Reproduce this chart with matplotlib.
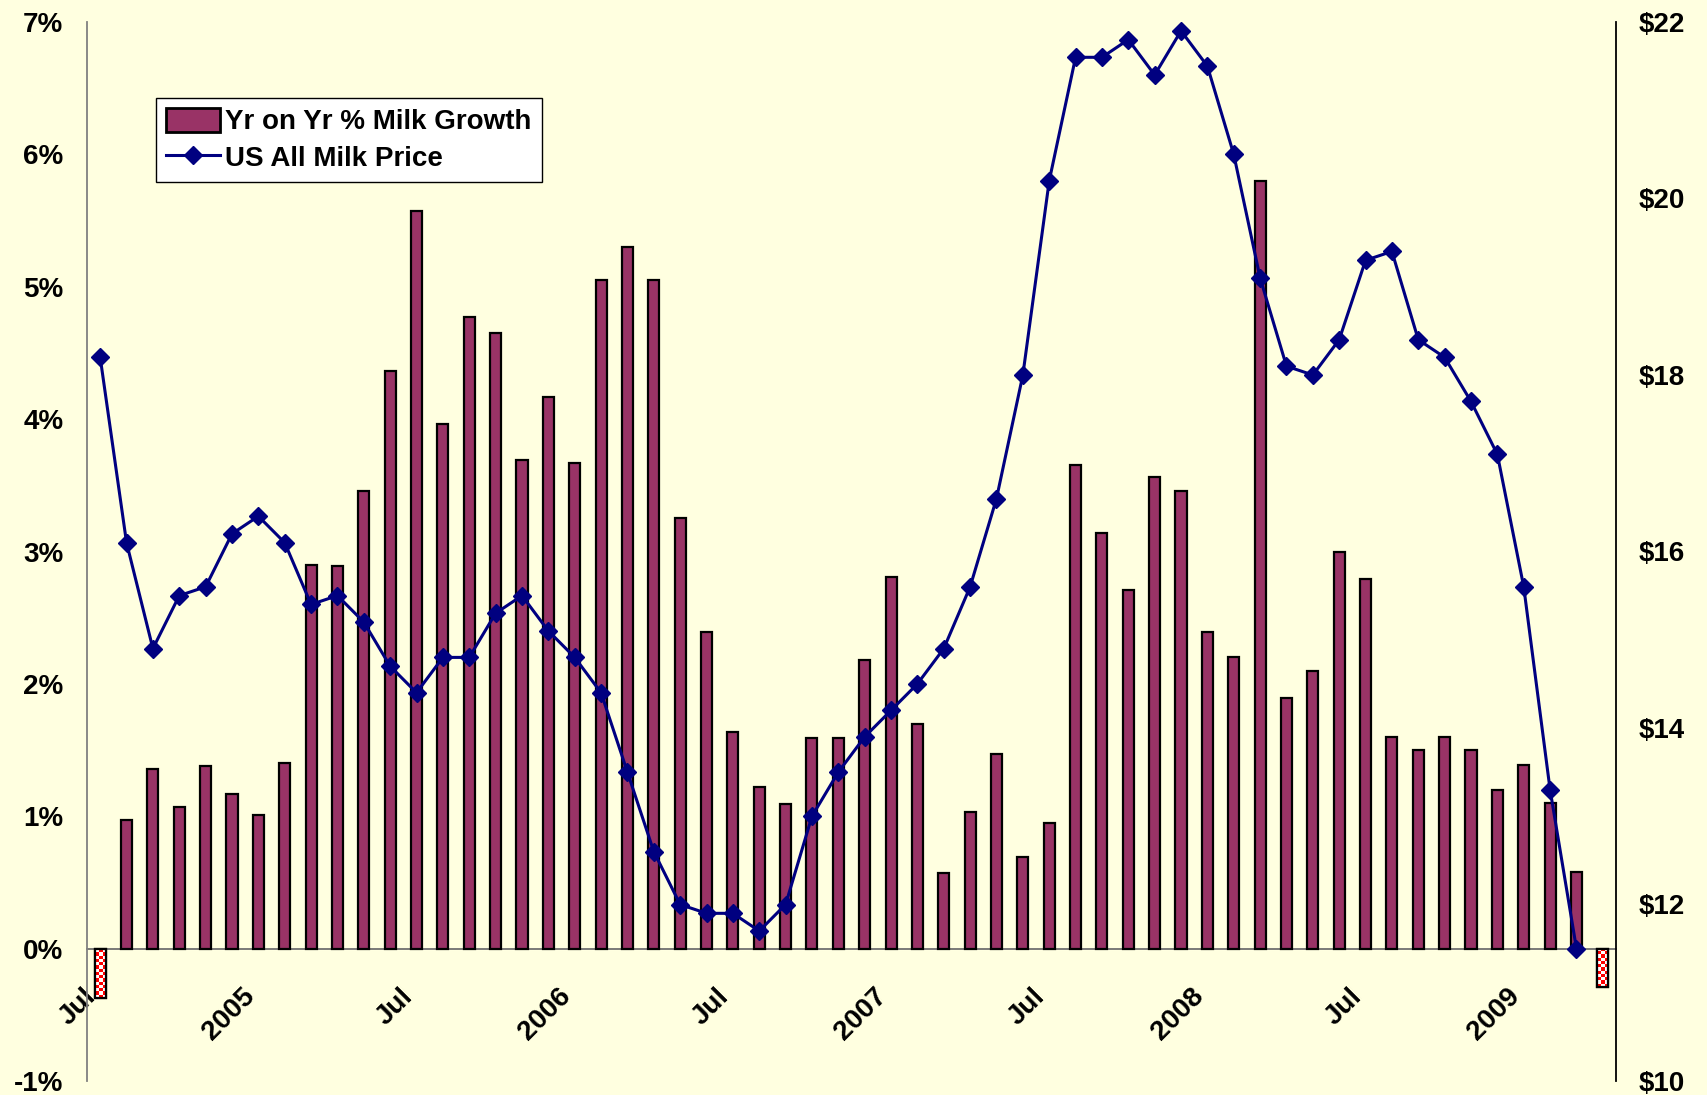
import numpy as np
import matplotlib
matplotlib.use("Agg")
import matplotlib.pyplot as plt
from matplotlib.colors import ListedColormap
from matplotlib.lines import Line2D
from matplotlib.patches import Patch, Rectangle
from matplotlib.transforms import ScaledTranslation
from matplotlib.font_manager import FontProperties

# Monthly series, Jul 2004 - Apr 2009
months = list(range(58))
tick_pos = [0, 6, 12, 18, 24, 30, 36, 42, 48, 54]
tick_labels = ["Jul", "2005", "Jul", "2006", "Jul", "2007", "Jul", "2008", "Jul", "2009"]

# Year-on-year % change in US milk production
milk_growth = [
    -0.37, 0.97, 1.36, 1.07, 1.38, 1.17, 1.01, 1.40, 2.90, 2.89,
    3.46, 4.36, 5.57, 3.96, 4.77, 4.65, 3.69, 4.17, 3.67, 5.05,
    5.30, 5.05, 3.25, 2.39, 1.64, 1.22, 1.09, 1.59, 1.59, 2.18,
    2.81, 1.70, 0.57, 1.03, 1.47, 0.69, 0.95, 3.65, 3.14, 2.71,
    3.56, 3.46, 2.39, 2.20, 5.80, 1.89, 2.10, 3.00, 2.79, 1.60,
    1.50, 1.60, 1.50, 1.20, 1.39, 1.10, 0.58, -0.29,
]
# months whose growth figure is shown with the checkered fill
checkered_months = [0, 57]

# US all milk price, $/cwt
milk_price = [
    18.2, 16.1, 14.9, 15.5, 15.6, 16.2, 16.4, 16.1, 15.4, 15.5,
    15.2, 14.7, 14.4, 14.8, 14.8, 15.3, 15.5, 15.1, 14.8, 14.4,
    13.5, 12.6, 12.0, 11.9, 11.9, 11.7, 12.0, 13.0, 13.5, 13.9,
    14.2, 14.5, 14.9, 15.6, 16.6, 18.0, 20.2, 21.6, 21.6, 21.8,
    21.4, 21.9, 21.5, 20.5, 19.1, 18.1, 18.0, 18.4, 19.3, 19.4,
    18.4, 18.2, 17.7, 17.1, 15.6, 13.3, 11.5, np.nan,
]

left_ticks = [-1, 0, 1, 2, 3, 4, 5, 6, 7]
right_ticks = [10, 12, 14, 16, 18, 20, 22]

BG = "#FFFFE0"
PLUM = "#993366"
NAVY = "#000080"
FONT = "Liberation Sans"

fig = plt.figure(figsize=(17.07, 10.95), dpi=100, facecolor=BG)
ax = fig.add_axes([87 / 1707, 14 / 1095, 1529 / 1707, 1059 / 1095])
ax.set_facecolor(BG)

bars = ax.bar(months, milk_growth, width=0.42, color=PLUM,
              edgecolor="black", linewidth=1.6, zorder=2)

# checkered fill for the flagged months
checker_cmap = ListedColormap(["white", "#FF0000"])
for i in checkered_months:
    rect = bars[i]
    rect.set_facecolor("white")
    x0, w = rect.get_x(), rect.get_width()
    y0, h = rect.get_y(), rect.get_height()
    nrows = max(2, int(round(abs(h) / 8 * 1059 / 3.2)))
    board = np.add.outer(np.arange(nrows), np.arange(3)) % 2
    im = ax.imshow(board, extent=(x0, x0 + w, y0 + h, y0), cmap=checker_cmap,
                   interpolation="nearest", aspect="auto", zorder=2.1)
    im.set_clip_path(rect)
    ax.add_patch(Rectangle((x0, y0), w, h, facecolor="none",
                           edgecolor="black", linewidth=1.6, zorder=2.2))

ax.set_xlim(-0.5, 57.5)
ax.set_ylim(-1, 7)
ax.set_yticks(left_ticks)
ax.set_yticklabels([f"{t}%" for t in left_ticks])
ax.set_xticks(tick_pos)
ax.set_xticklabels(tick_labels)

for s in ["top", "right"]:
    ax.spines[s].set_visible(False)
ax.spines["left"].set_color("#808080")
ax.spines["left"].set_linewidth(1.3)
ax.spines["bottom"].set_position(("data", 0))
ax.spines["bottom"].set_color("#707070")
ax.spines["bottom"].set_linewidth(1.3)
ax.spines["bottom"].set_zorder(1.5)

ax.tick_params(axis="y", length=0, pad=17)
ax.tick_params(axis="x", length=0, pad=25)
for lab in ax.get_yticklabels():
    lab.set_fontproperties(FontProperties(family=FONT, weight="bold", size=20))
shift = ScaledTranslation(-0.17, 0, fig.dpi_scale_trans)
for lab in ax.get_xticklabels():
    lab.set_fontproperties(FontProperties(family=FONT, weight="bold", size=20))
    lab.set_rotation(45)
    lab.set_ha("right")
    lab.set_va("top")
    lab.set_rotation_mode("anchor")
    lab.set_transform(lab.get_transform() + shift)

ax2 = ax.twinx()
ax2.patch.set_visible(False)
ax2.plot(months, milk_price, color=NAVY, linewidth=2.2, marker="D",
         markersize=9.5, markerfacecolor=NAVY, markeredgecolor=NAVY, zorder=3)
ax2.set_ylim(10, 22)
ax2.set_yticks(right_ticks)
ax2.set_yticklabels([f"${t}" for t in right_ticks])
for s in ["top", "left", "bottom"]:
    ax2.spines[s].set_visible(False)
ax2.spines["right"].set_color("black")
ax2.spines["right"].set_linewidth(1.3)
ax2.tick_params(axis="y", length=0, pad=16)
for lab in ax2.get_yticklabels():
    lab.set_fontproperties(FontProperties(family=FONT, weight="bold", size=20))

handles = [
    Patch(facecolor=PLUM, edgecolor="black", linewidth=2),
    Line2D([], [], color=NAVY, linewidth=2.2, marker="D", markersize=9.5),
]
leg = fig.legend(handles, ["Yr on Yr % Milk Growth", "US All Milk Price"],
                 loc="upper left", bbox_to_anchor=(156 / 1707, 1 - 98 / 1095),
                 frameon=True, fancybox=False, edgecolor="black",
                 facecolor="white", framealpha=1, borderaxespad=0,
                 prop=FontProperties(family=FONT, weight="bold", size=20),
                 handlelength=1.95, handleheight=0.95, handletextpad=0.2,
                 borderpad=0.35, labelspacing=0.33)
leg.get_frame().set_linewidth(1.0)

fig.savefig("out.png", dpi=100, facecolor=BG)
